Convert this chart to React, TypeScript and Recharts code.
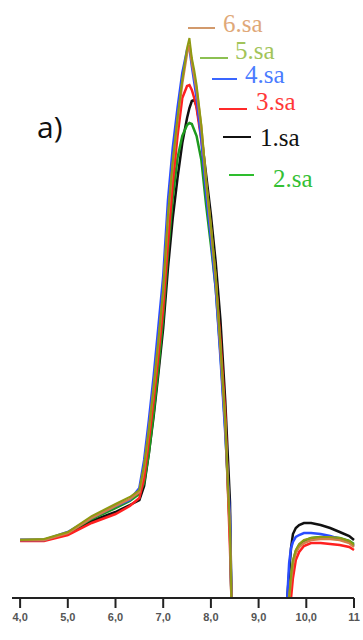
import { LineChart, Line, XAxis, YAxis } from "recharts";

const xs = [
  4.0, 4.5, 5.0, 5.5, 6.0, 6.3, 6.5, 6.6, 6.7, 6.8, 6.9, 7.0, 7.1, 7.2, 7.3, 7.4, 7.5, 7.55, 7.6, 7.65, 7.7,
  7.8, 7.9, 8.0, 8.1, 8.2, 8.3, 8.4, 8.43, 9.0, 9.6, 9.64, 9.68, 9.72, 9.78, 9.85, 9.95, 10.1, 10.3, 10.5,
  10.7, 10.9, 11.0,
];

const sa1 = [
  58, 58, 64, 77, 86, 93, 98, 112, 145, 182, 225, 270, 330, 380, 420, 455, 480, 490, 497, 498, 492,
  463, 423, 383, 336, 278, 198, 96, 0, null, 0, 25, 50, 64, 70, 73, 75, 75, 73, 70,
  66, 62, 58,
];
const sa2 = [
  58, 58, 65, 79, 90, 97, 104, 115, 145, 185, 230, 280, 345, 400, 440, 462, 473, 475, 474, 468, 462,
  438, 393, 353, 310, 245, 170, 65, 0, null, null, 0, 20, 36, 47, 53, 57, 60, 61, 61,
  60, 57, 54,
];
const sa3 = [
  57, 57, 63, 75, 84, 92, 100, 120, 158, 198, 243, 290, 355, 415, 462, 500, 512, 513, 508, 500, 490,
  458, 412, 368, 318, 258, 185, 50, 0, null, null, null, 0, 20, 38, 46, 52, 55, 55, 54,
  53, 51, 48,
];
const sa4 = [
  58, 58, 66, 80, 92, 98, 110, 138, 178, 222, 272, 322, 398, 450, 490, 525, 548, 550, 532, 516, 500,
  458, 405, 360, 310, 240, 165, 82, 0, null, 0, 35, 50, 56, 61, 63, 65, 65, 64, 62,
  59, 56, 52,
];
const sa5 = [
  58, 59, 66, 82, 94, 101, 108, 133, 168, 210, 258, 308, 383, 436, 480, 518, 550, 560, 540, 528, 513,
  473, 418, 373, 323, 253, 178, 68, 0, null, null, 0, 22, 38, 48, 54, 58, 60, 61, 61,
  60, 57, 53,
];
const sa6 = [
  58, 58, 65, 80, 92, 99, 106, 130, 168, 210, 256, 306, 380, 434, 478, 515, 545, 553, 536, 522, 508,
  470, 416, 370, 320, 250, 176, 66, 0, null, null, 0, 18, 34, 45, 51, 55, 58, 59, 59,
  58, 55, 51,
];

const xTicks = [4, 5, 6, 7, 8, 9, 10, 11];
const xTickLabels = ["4,0", "5,0", "6,0", "7,0", "8,0", "9,0", "10,0", "11"];

const legendItems = [
  { name: "6.sa", line: "#d29a6c", text: "#e0a878", x1: 188, x2: 215, ly: 28, tx: 223, ty: 32 },
  { name: "5.sa", line: "#8cc052", text: "#a2c45a", x1: 200, x2: 228, ly: 58, tx: 235, ty: 59 },
  { name: "4.sa", line: "#3a66ff", text: "#4a7cff", x1: 212, x2: 237, ly: 79, tx: 245, ty: 83 },
  { name: "3.sa", line: "#ff2a2a", text: "#ff3838", x1: 219, x2: 247, ly: 109, tx: 256, ty: 110 },
  { name: "1.sa", line: "#111111", text: "#111111", x1: 223, x2: 251, ly: 137, tx: 260, ty: 146 },
  { name: "2.sa", line: "#2ebd2e", text: "#34c034", x1: 229, x2: 254, ly: 175, tx: 273, ty: 187 },
];

const data = xs.map((x, i) => ({
  x,
  sa1: sa1[i],
  sa2: sa2[i],
  sa3: sa3[i],
  sa4: sa4[i],
  sa5: sa5[i],
  sa6: sa6[i],
}));

const App = () => {
  return (
    <div style={{ position: "absolute", left: 0, top: 0, width: 363, height: 640 }}>
      <LineChart width={363} height={640} data={data} margin={{ top: 8, right: 9, left: 12, bottom: 12 }}>
        <XAxis
          dataKey="x"
          type="number"
          domain={[3.83, 11]}
          ticks={xTicks}
          tickFormatter={(v: number) => xTickLabels[xTicks.indexOf(v)]}
          height={30}
          tickSize={10}
          tickMargin={5}
          axisLine={{ stroke: "#222", strokeWidth: 2 }}
          tickLine={{ stroke: "#222", strokeWidth: 2 }}
          tick={{ fill: "#555", fontSize: 11, fontFamily: "Liberation Sans", fontWeight: "bold" }}
        />
        <YAxis hide domain={[0, 590]} />
        <Line type="linear" dataKey="sa1" stroke="#111111" strokeWidth={2.5} dot={false} isAnimationActive={false} />
        <Line type="linear" dataKey="sa2" stroke="#1e9a1e" strokeWidth={2.5} dot={false} isAnimationActive={false} />
        <Line type="linear" dataKey="sa3" stroke="#ff2020" strokeWidth={2.5} dot={false} isAnimationActive={false} />
        <Line type="linear" dataKey="sa4" stroke="#2a4dff" strokeWidth={2.5} dot={false} isAnimationActive={false} />
        <Line type="linear" dataKey="sa6" stroke="#d08048" strokeWidth={2.5} dot={false} isAnimationActive={false} />
        <Line type="linear" dataKey="sa5" stroke="#8f9a12" strokeWidth={2} dot={false} isAnimationActive={false} />
      </LineChart>
      <svg
        width={363}
        height={640}
        style={{ position: "absolute", left: 0, top: 0, pointerEvents: "none" }}
      >
        <text x={37} y={138} fontFamily="Open Sans" fontSize={30} fill="#111">
          a)
        </text>
        {legendItems.map((it) => (
          <g key={it.name}>
            <line x1={it.x1} x2={it.x2} y1={it.ly} y2={it.ly} stroke={it.line} strokeWidth={2} />
            <text x={it.tx} y={it.ty} fontFamily="Liberation Serif" fontSize={25} fill={it.text}>
              {it.name}
            </text>
          </g>
        ))}
      </svg>
    </div>
  );
};

export default App;
